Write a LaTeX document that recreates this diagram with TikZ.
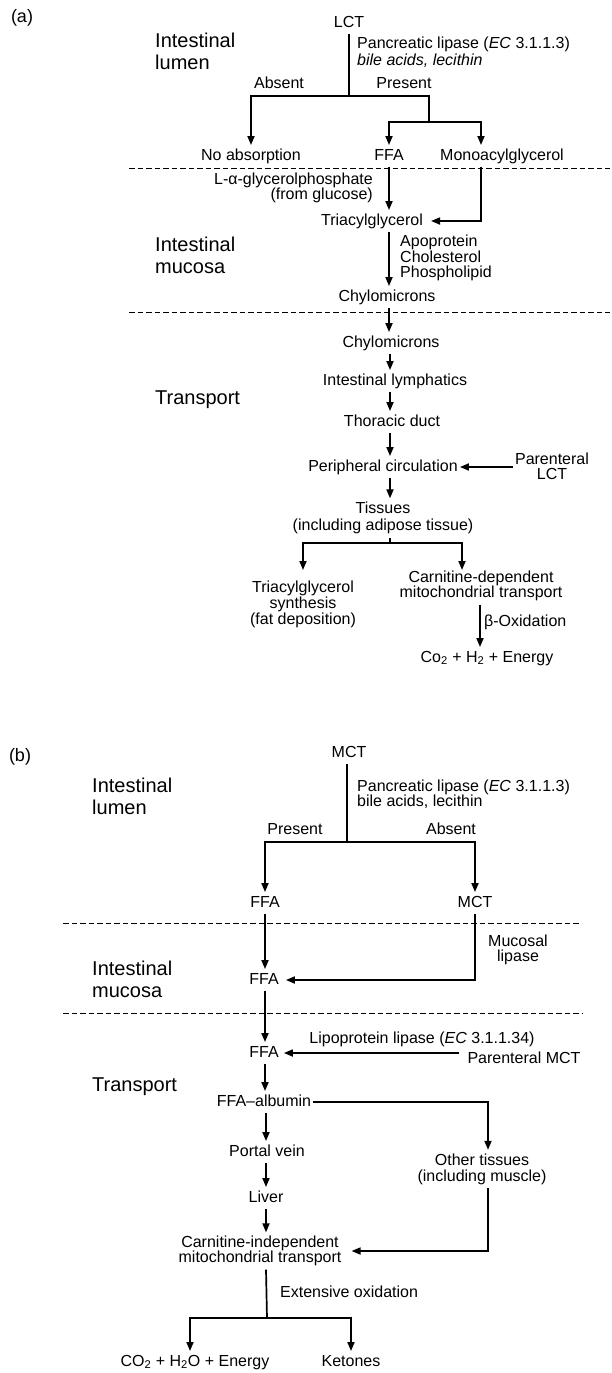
\documentclass[tikz,border=0pt]{standalone}
\usepackage{fontspec}
\setmainfont{Liberation Sans}
\usetikzlibrary{arrows.meta}
\begin{document}
\begin{tikzpicture}[x=1pt,y=-1pt,
 txt/.style={font=\fontsize{16}{16}\selectfont, inner xsep=2pt, inner ysep=3.5pt, align=center},
 one/.style={txt, text height=11.5pt, text depth=3pt},
 hdr/.style={font=\fontsize{20}{22}\selectfont, align=left, anchor=west, inner sep=0pt},
 ln/.style={line width=1.7pt},
 arr/.style={ln, -{Triangle[length=9pt,width=7pt]}},
 dsh/.style={line width=1pt, dash pattern=on 5.5pt off 3pt},
]
\useasboundingbox (0,0) rectangle (612,1373);
% ---------------- (a) ----------------
\node[txt,font=\fontsize{18}{18}\selectfont] (la) at (22,18) {(a)};
\node[hdr] (hal) at (155,51) {Intestinal\\lumen};
\node[one] (lct) at (349,23) {LCT};
\node[txt, align=left, anchor=west, font=\fontsize{16}{17}\selectfont] (pla) at (355,52) {Pancreatic lipase (\textit{EC} 3.1.1.3)\\\textit{bile acids, lecithin}};
\node[one] (absa) at (279,84) {Absent};
\node[one] (pra) at (404,84) {Present};
\node[one] (noabs) at (251,156) {No absorption};
\node[one] (ffaa) at (389,156) {FFA};
\node[one] (mono) at (502,156) {Monoacylglycerol};
\coordinate (ba) at (349,96);
\coordinate (bb) at (429,122);
\coordinate (monoc) at (481,145);
\coordinate (ca) at (389,0);
\draw[ln] (lct) -- (ba);
\draw[arr] (ba) -| (noabs);
\draw[ln] (ba) -| (bb);
\draw[arr] (bb) -| (ffaa);
\draw[arr] (bb) -| (monoc);
\draw[dsh] (129,168) -- (610,168);
\node[txt, align=right, anchor=east, font=\fontsize{16}{15}\selectfont] (lgp) at (375,188) {L-α-glycerolphosphate\\(from glucose)};
\node[one] (taga) at (372,221) {Triacylglycerol};
\coordinate (mc) at (481,221);
\draw[arr] (ffaa) -- (ca |- taga.north);
\draw[arr] (mono.south -| monoc) -- (mc) -- ([xshift=6pt]taga.east);
\node[hdr] (ham) at (155,255) {Intestinal\\mucosa};
\node[txt, align=left, anchor=west, font=\fontsize{16}{15.5}\selectfont] (apo) at (398,258) {Apoprotein\\Cholesterol\\Phospholipid};
\node[one] (chya) at (387,297) {Chylomicrons};
\draw[arr] (ca |- taga.south) -- (ca |- chya.north);
\draw[dsh] (129,312) -- (610,312);
\node[one] (chyb) at (391,343) {Chylomicrons};
\draw[arr] (ca |- chya.south) -- (ca |- chyb.north);
\node[hdr] (hat) at (155,400) {Transport};
\node[one] (lym) at (395,381) {Intestinal lymphatics};
\node[one] (tho) at (392,422) {Thoracic duct};
\node[one] (per) at (383,467) {Peripheral circulation};
\node[txt, font=\fontsize{16}{15}\selectfont] (plct) at (552,466) {Parenteral\\LCT};
\node[txt, font=\fontsize{16}{17}\selectfont] (tis) at (383,518) {Tissues\\(including adipose tissue)};
\coordinate (cc) at (390,0);
\draw[arr] (cc |- chyb.south) -- (cc |- lym.north);
\draw[arr] (cc |- lym.south) -- (cc |- tho.north);
\draw[arr] (cc |- tho.south) -- (cc |- per.north);
\draw[arr] (cc |- per.south) -- (cc |- tis.north);
\draw[arr] (plct.west |- per) -- (per.east);
\coordinate (ta) at (390,543);
\coordinate (tgsn) at (303,570);
\coordinate (cdn) at (462,570);
\draw[ln] (cc |- tis.south) -- (ta);
\draw[arr] (ta) -| (tgsn);
\draw[arr] (ta) -| (cdn);
\node[txt, font=\fontsize{16}{16}\selectfont] (tgs) at (303,604) {Triacylglycerol\\synthesis\\(fat deposition)};
\node[txt, font=\fontsize{16}{15.5}\selectfont] (cdp) at (481,586) {Carnitine-dependent\\mitochondrial transport};
\coordinate (bo) at (480,0);
\node[one] (co2a) at (487,658) {Co\textsubscript{2} + H\textsubscript{2} + Energy};
\draw[arr] (bo |- cdp.south) -- (bo |- co2a.north);
\node[one, anchor=west] (box) at (482,622) {β-Oxidation};
% ---------------- (b) ----------------
\node[txt,font=\fontsize{18}{18}\selectfont] (lb) at (20,757) {(b)};
\node[hdr] (hbl) at (92,796) {Intestinal\\lumen};
\node[one] (mct) at (349,753) {MCT};
\node[txt, align=left, anchor=west, font=\fontsize{16}{15}\selectfont] (plb) at (355,794) {Pancreatic lipase (\textit{EC} 3.1.1.3)\\bile acids, lecithin};
\node[one] (prb) at (295,830) {Present};
\node[one] (abb) at (451,830) {Absent};
\coordinate (bc) at (347,842);
\node[one] (ffab1) at (265,903) {FFA};
\node[one] (mctb) at (475,903) {MCT};
\draw[ln] (mct.south -| bc) -- (bc);
\draw[arr] (bc) -| (ffab1);
\draw[arr] (bc) -| (mctb);
\draw[dsh] (63,923) -- (580,923);
\draw[dsh] (63,1013) -- (582,1013);
\node[hdr] (hbm) at (92,979) {Intestinal\\mucosa};
\node[one, inner xsep=7pt] (ffab2) at (264,980) {FFA};
\node[txt, font=\fontsize{16}{15}\selectfont] (mucl) at (518,950) {Mucosal\\lipase};
\coordinate (cb) at (265,0);
\draw[arr] (ffab1) -- (cb |- ffab2.north);
\draw[arr] (mctb) |- (ffab2);
\node[one, inner xsep=5pt] (ffab3) at (264,1053) {FFA};
\draw[arr] (cb |- ffab2.south) -- (cb |- ffab3.north);
\node[hdr] (hbt) at (92,1087) {Transport};
\node[one] (lpl) at (422,1039) {Lipoprotein lipase (\textit{EC} 3.1.1.34)};
\node[one] (pmct) at (524,1059) {Parenteral MCT};
\draw[arr] ([xshift=-6pt]pmct.west |- ffab3) -- (ffab3);
\node[one] (alb) at (264,1102) {FFA–albumin};
\draw[arr] (cb |- ffab3.south) -- (cb |- alb.north);
\node[txt, font=\fontsize{16}{16}\selectfont] (oth) at (482,1169) {Other tissues\\(including muscle)};
\coordinate (oc) at (488,0);
\draw[arr] (alb) -| (oc |- oth.north);
\node[one] (por) at (267,1152) {Portal vein};
\node[one] (liv) at (266,1198) {Liver};
\coordinate (cd) at (266,0);
\draw[arr] (cd |- alb.south) -- (cd |- por.north);
\draw[arr] (cd |- por.south) -- (cd |- liv.north);
\node[txt, font=\fontsize{16}{15}\selectfont, inner xsep=10pt] (cind) at (260,1251) {Carnitine-independent\\mitochondrial transport};
\draw[arr] (cd |- liv.south) -- (cd |- cind.north);
\draw[arr] (oc |- oth.south) |- (cind.east);
\coordinate (ex) at (267,1318);
\draw[ln] (cd |- cind.south) -- (ex);
\node[one, anchor=west] (exo) at (278,1293) {Extensive oxidation};
\node[one] (co2b) at (195,1362) {CO\textsubscript{2} + H\textsubscript{2}O + Energy};
\node[one] (ket) at (351,1362) {Ketones};
\coordinate (x1) at (190,1351);
\draw[arr] (ex) -| (x1);
\draw[arr] (ex) -| (ket);
\end{tikzpicture}
\end{document}
